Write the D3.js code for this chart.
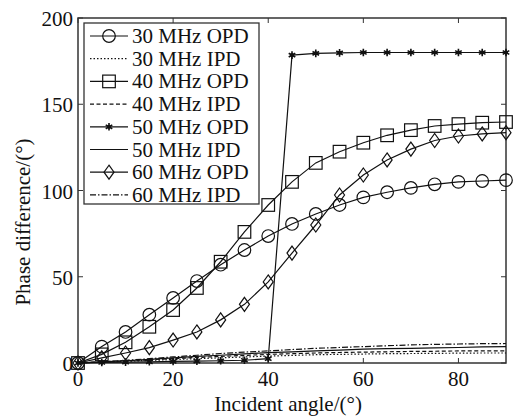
<!DOCTYPE html>
<meta charset="utf-8">
<script src="https://cdn.jsdelivr.net/npm/d3@7"></script>
<style>
  body { margin: 0; background: #fff; }
  text { font-family: "Liberation Serif", "DejaVu Serif", serif; fill: #111; }
</style>
<svg id="chart" width="516" height="417"></svg>
<script>
// incident angle, degrees
var angles = [0, 5, 10, 15, 20, 25, 30, 35, 40, 45, 50, 55, 60, 65, 70, 75, 80, 85, 90];

// phase differences
var opd30 = [0, 9.5, 18, 28, 37.7, 47.5, 57, 65.5, 73.6, 80.6, 86.4, 91.6, 96, 99, 101.5, 103.6, 105, 105.5, 106];
var ipd30 = [0, 0.5, 1, 1.5, 2, 2.5, 3, 3.5, 4, 4.4, 4.8, 5, 5.2, 5.4, 5.5, 5.6, 5.7, 5.8, 5.8];
var opd40 = [0, 5, 12, 21, 30.7, 43.5, 58.7, 76, 91.6, 105, 116, 122.5, 127.7, 132, 135, 137.4, 138.5, 139.3, 139.7];
var ipd40 = [0, 0.6, 1.2, 1.9, 2.5, 3.2, 3.8, 4.4, 5, 5.4, 5.8, 6.1, 6.3, 6.5, 6.7, 6.8, 7, 7, 7];
var opd50 = [0, 0.3, 0.5, 0.7, 0.9, 1.1, 1.3, 1.6, 2.5, 178.5, 179.5, 179.8, 180, 180, 180, 180, 180, 180, 180];
var ipd50 = [0, 0.7, 1.3, 2.1, 3, 3.8, 4.5, 5.3, 6, 6.5, 7, 7.5, 8, 8.3, 8.5, 8.8, 9, 9.3, 9.5];
var opd60 = [0, 3, 5.8, 8.9, 13.3, 18, 25, 34, 47, 63.7, 80, 97.4, 109, 117.7, 124, 129, 131.6, 132.8, 133.5];
var ipd60 = [0, 0.8, 1.5, 2.5, 3.5, 4.5, 5.5, 6.3, 7, 7.8, 8.5, 9, 9.5, 10, 10.5, 10.8, 11, 11.2, 11.3];

var xTicks = [0, 20, 40, 60, 80];
var yTicks = [0, 50, 100, 150, 200];

var series = [
  { name: "30 MHz OPD", values: opd30, dash: null, marker: "circle" },
  { name: "30 MHz IPD", values: ipd30, dash: "1.5,2", marker: null },
  { name: "40 MHz OPD", values: opd40, dash: null, marker: "square" },
  { name: "40 MHz IPD", values: ipd40, dash: "4,2.5", marker: null },
  { name: "50 MHz OPD", values: opd50, dash: null, marker: "star" },
  { name: "50 MHz IPD", values: ipd50, dash: null, marker: null },
  { name: "60 MHz OPD", values: opd60, dash: null, marker: "diamond" },
  { name: "60 MHz IPD", values: ipd60, dash: "6,2,1.5,2", marker: null }
];

var svg = d3.select("#chart");
var x = d3.scaleLinear().domain([0, 90]).range([78, 506]);
var y = d3.scaleLinear().domain([0, 200]).range([363, 18]);

// marker drawing
function drawMarker(g, type, cx, cy) {
  if (type == "circle") {
    g.append("circle").attr("cx", cx).attr("cy", cy).attr("r", 6.3)
      .attr("fill", "none").attr("stroke", "#111").attr("stroke-width", 1.2);
  } else if (type == "square") {
    g.append("rect").attr("x", cx - 6.3).attr("y", cy - 6.3).attr("width", 12.6).attr("height", 12.6)
      .attr("fill", "none").attr("stroke", "#111").attr("stroke-width", 1.2);
  } else if (type == "diamond") {
    g.append("path").attr("d", "M" + cx + "," + (cy - 7) + "L" + (cx + 5) + "," + cy +
        "L" + cx + "," + (cy + 7) + "L" + (cx - 5) + "," + cy + "Z")
      .attr("fill", "none").attr("stroke", "#111").attr("stroke-width", 1.2);
  } else if (type == "star") {
    g.append("path").attr("d", d3.symbol().type(d3.symbolAsterisk).size(40)())
      .attr("transform", "translate(" + cx + "," + cy + ")")
      .attr("fill", "none").attr("stroke", "#111").attr("stroke-width", 1.6);
    g.append("circle").attr("cx", cx).attr("cy", cy).attr("r", 2).attr("fill", "#111");
  }
}

// frame
svg.append("rect").attr("x", 78).attr("y", 18).attr("width", 428).attr("height", 345)
  .attr("fill", "none").attr("stroke", "#333").attr("stroke-width", 1.5);

// ticks (inward, all four sides)
var tk = svg.append("g").attr("stroke", "#333");
xTicks.forEach(function (t) {
  tk.append("line").attr("x1", x(t)).attr("x2", x(t)).attr("y1", 363).attr("y2", 358);
  tk.append("line").attr("x1", x(t)).attr("x2", x(t)).attr("y1", 18).attr("y2", 23);
});
yTicks.forEach(function (t) {
  tk.append("line").attr("x1", 78).attr("x2", 83).attr("y1", y(t)).attr("y2", y(t));
  tk.append("line").attr("x1", 506).attr("x2", 501).attr("y1", y(t)).attr("y2", y(t));
});

svg.append("g").selectAll("text").data(xTicks).enter().append("text")
  .attr("x", function (d) { return x(d); }).attr("y", 386)
  .attr("text-anchor", "middle").style("font-size", "21px")
  .text(function (d) { return d; });
svg.append("g").selectAll("text").data(yTicks).enter().append("text")
  .attr("x", 73).attr("y", function (d) { return y(d) + 8; })
  .attr("text-anchor", "end").style("font-size", "21px")
  .text(function (d) { return d; });

svg.append("text").attr("x", 288).attr("y", 411).attr("text-anchor", "middle")
  .style("font-size", "21px").text("Incident angle/(°)");
svg.append("text").attr("transform", "translate(30,222) rotate(-90)").attr("text-anchor", "middle")
  .style("font-size", "21px").text("Phase difference/(°)");

// data lines
var line = d3.line().x(function (d, i) { return x(angles[i]); }).y(function (d) { return y(d); });
var plot = svg.append("g");
series.forEach(function (s) {
  plot.append("path").datum(s.values).attr("d", line)
    .attr("fill", "none").attr("stroke", "#111").attr("stroke-width", 1.2)
    .attr("stroke-dasharray", s.dash);
  if (s.marker) {
    s.values.forEach(function (v, i) { drawMarker(plot, s.marker, x(angles[i]), y(v)); });
  }
});

// legend
var lg = svg.append("g");
lg.append("rect").attr("x", 84).attr("y", 23).attr("width", 175).attr("height", 181)
  .attr("fill", "#fff").attr("stroke", "#333").attr("stroke-width", 1.3);
series.forEach(function (s, i) {
  var ly = 36 + i * 22.7;
  lg.append("line").attr("x1", 90).attr("x2", 128).attr("y1", ly).attr("y2", ly)
    .attr("stroke", "#111").attr("stroke-width", 1.2).attr("stroke-dasharray", s.dash);
  if (s.marker) drawMarker(lg, s.marker, 109, ly);
  lg.append("text").attr("x", 132).attr("y", ly + 7).style("font-size", "21px").text(s.name);
});
</script>
